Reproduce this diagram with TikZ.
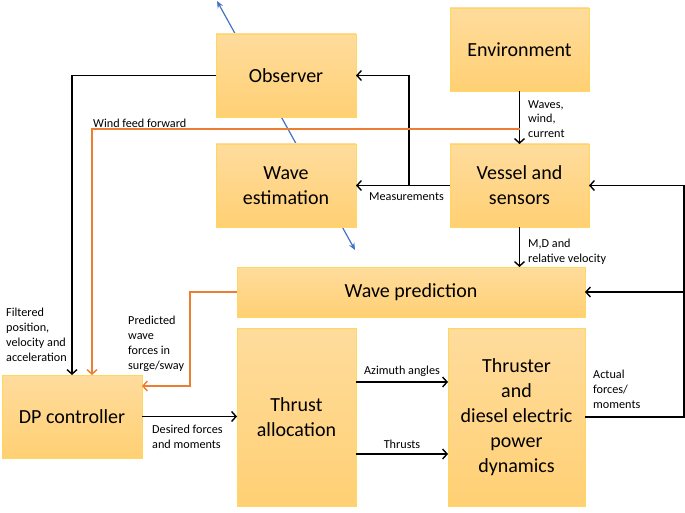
\documentclass[tikz,border=0pt]{standalone}
\usepackage{fontspec}
\setmainfont{Carlito}
\usetikzlibrary{arrows.meta}
\begin{document}
\begin{tikzpicture}[x=1pt,y=-1pt,
  block/.style={draw=boxline,line width=0.8pt,top color=boxtop,bottom color=boxbot,
    inner sep=0pt,outer sep=0pt,align=center,font=\fontsize{20}{25}\selectfont},
  arr/.style={-{Straight Barb[length=4.5pt,width=10pt,line width=1.4pt]},line width=1.4pt,customcolor0},
  oarr/.style={arr,customcolor5},
  lbl/.style={inner sep=0pt,align=left,font=\fontsize{12.2}{14.8}\selectfont}]
\definecolor{customcolor0}{HTML}{000000}
\definecolor{customcolor1}{HTML}{4472C4}
\definecolor{customcolor5}{HTML}{ED7D31}
\definecolor{boxtop}{HTML}{FFDC9D}
\definecolor{boxbot}{HTML}{FFD074}
\definecolor{boxline}{HTML}{FFD75E}
\useasboundingbox (0,0) rectangle (685,513);
% blue line behind the blocks
\coordinate (btop) at (217,1);
\coordinate (bbot) at (355,250);
\draw[{Stealth[length=7pt,width=6pt]}-{Stealth[length=7pt,width=6pt]},customcolor1,line width=1.2pt] (bbot) -- (btop);
% blocks
\node[block,minimum width=140pt,minimum height=83pt] (obs) at (286,75.5) {Observer};
\node[block,minimum width=140pt,minimum height=83pt] (waveest) at (286,185.5) {Wave\\estimation};
\node[block,minimum width=139pt,minimum height=83pt] (env) at (519.5,49.5) {Environment};
\node[block,minimum width=139pt,minimum height=83pt] (vessel) at (519.5,185.5) {Vessel and\\sensors};
\node[block,minimum width=348pt,minimum height=50pt] (wavepred) at (411,292) {Wave prediction};
\node[block,minimum width=119pt,minimum height=178pt] (thrall) at (296.5,417) {Thrust\\allocation};
\node[block,minimum width=137pt,minimum height=178pt] (thruster) at (516.5,417) {Thruster\\and\\diesel electric\\power\\dynamics};
\node[block,minimum width=140pt,minimum height=83pt] (dp) at (72,416.5) {DP controller};
% connectors
\coordinate (wf) at (519.5,129);
\coordinate (mb) at (409,185.5);
\coordinate (rr) at (684,185.5);
\coordinate (pp) at (190,386);
\draw[arr] (env.south) -- (vessel.north);
\draw[arr] (vessel.west) -- (waveest.east);
\draw[arr] (mb) |- (obs.east);
\draw[arr] (obs.west) -| (dp.north);
\draw[oarr] (wf) -| ([xshift=20pt]dp.north);
\draw[arr] (vessel.south) -- (vessel.south |- wavepred.north);
\draw[arr] (thruster.east) -| (rr) -- (vessel.east);
\draw[arr] (wavepred.east -| rr) -- (wavepred.east);
\draw[oarr] (wavepred.west) -| (pp) -- ([yshift=30.5pt]dp.east);
\draw[arr] (dp.east) -- (dp.east -| thrall.west);
\draw[arr] ([yshift=35pt]thrall.east) -- ([yshift=35pt]thruster.west);
\draw[arr] ([yshift=-37pt]thrall.east) -- ([yshift=-37pt]thruster.west);
% labels
\node[lbl,anchor=south west] (lwf) at (93,128) {Wind feed forward};
\node[lbl,anchor=north west] (lwaves) at (528,100) {Waves,\\wind,\\current};
\node[lbl,anchor=north west] (lmeas) at (369,192) {Measurements};
\node[lbl,anchor=north west] (lmd) at (528,239) {M,D and\\relative velocity};
\node[lbl,anchor=north west] (lact) at (593,370) {Actual\\forces/\\moments};
\node[lbl,anchor=north west] (lpred) at (128,316) {Predicted\\wave\\forces in\\surge/sway};
\node[lbl,anchor=north west] (lfilt) at (6,308) {Filtered\\position,\\velocity and\\acceleration};
\node[lbl,anchor=north west] (ldes) at (152,425) {Desired forces\\and moments};
\node[lbl,anchor=south] (laz) at (402,377) {Azimuth angles};
\node[lbl,anchor=south] (lthr) at (402,449) {Thrusts};
\end{tikzpicture}
\end{document}
